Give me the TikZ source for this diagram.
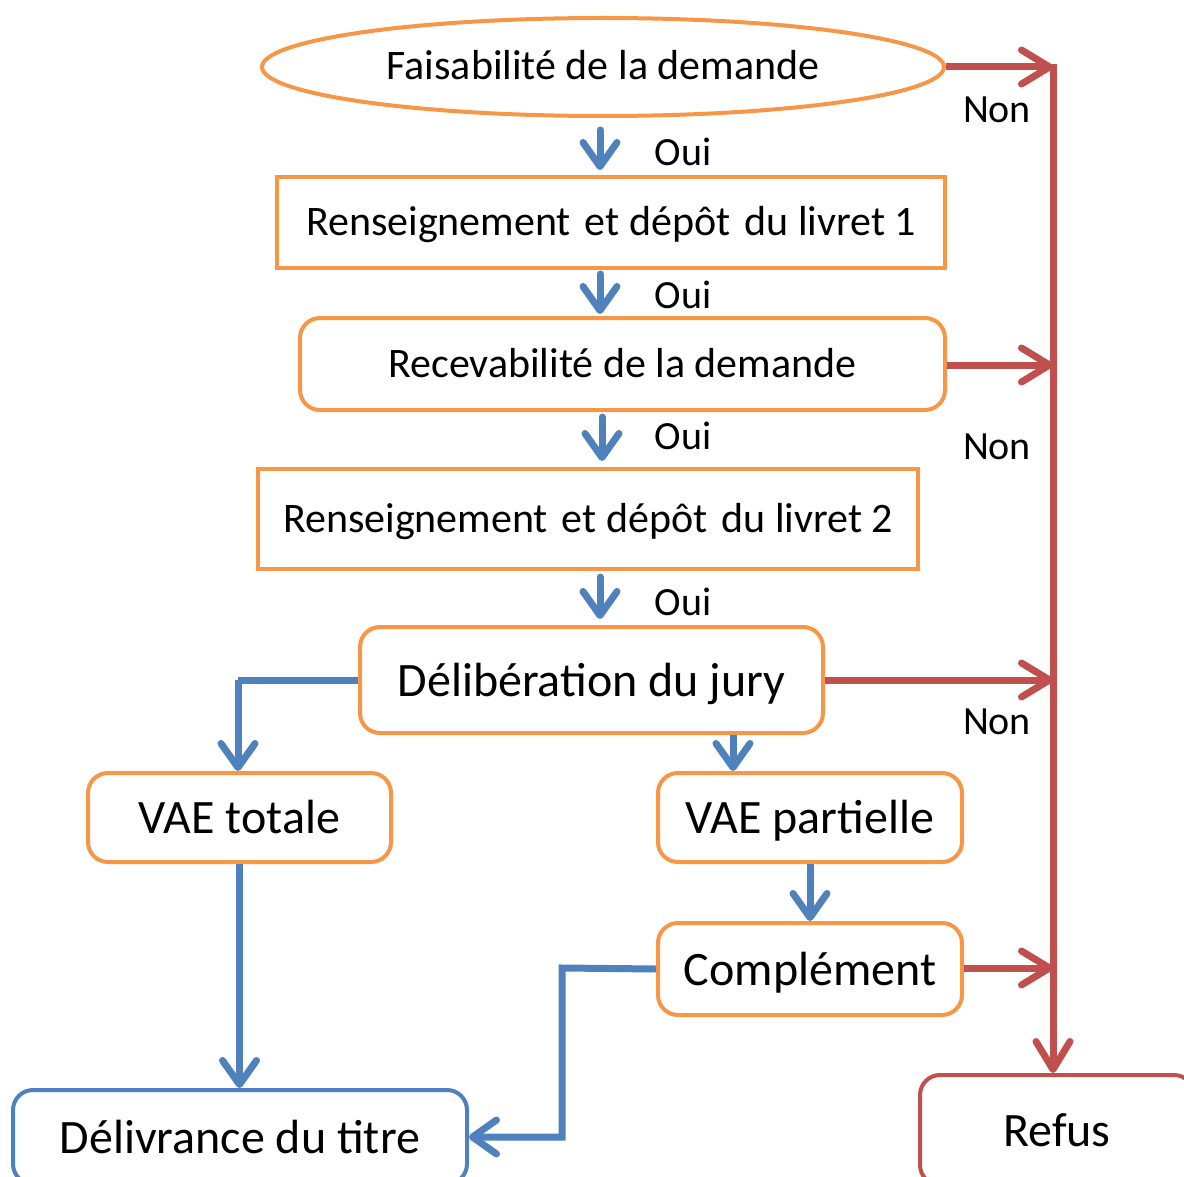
\documentclass[tikz,border=0pt]{standalone}
\usepackage{fontspec}
\setmainfont{Carlito}
\usetikzlibrary{arrows.meta,shapes.geometric}
\definecolor{vorange}{HTML}{F79646}
\definecolor{vblue}{HTML}{4F81BD}
\definecolor{vred}{HTML}{C0504D}
\begin{document}
\begin{tikzpicture}[x=1pt,y=-1pt,
  txt/.style={font=\fontsize{42}{48}\selectfont, text height=26pt, text depth=0pt},
  bigtxt/.style={font=\fontsize{48}{54}\selectfont, text height=32pt, text depth=0pt},
  lbl/.style={font=\fontsize{40}{46}\selectfont, inner sep=0pt},
  obox/.style={draw=vorange, line width=4pt, fill=white, inner sep=0pt},
  rbox/.style={obox, rounded corners=20pt},
  bconn/.style={draw=vblue, line width=7pt, line cap=round,
    -{Straight Barb[length=24pt,width=34pt,round]}},
  bline/.style={draw=vblue, line width=7pt},
  rconn/.style={draw=vred, line width=7pt,
    -{Straight Barb[length=28pt,width=34pt,round]}},
]
\useasboundingbox (0,0) rectangle (1184,1177);
\clip (0,0) rectangle (1184,1177);

% nodes
\node[obox, ellipse, minimum width=682pt, minimum height=98pt, txt] (fais) at (603,67) {Faisabilité de la demande};
\node[obox, minimum width=668pt, minimum height=91pt, txt] (liv1) at (611,222.5) {Renseignement\hspace{4.5pt} et dépôt\hspace{4.5pt} du livret 1};
\node[rbox, minimum width=645pt, minimum height=92pt, txt] (rece) at (622.5,364) {Recevabilité de la demande};
\node[obox, minimum width=660pt, minimum height=100pt, txt] (liv2) at (588,519) {Renseignement\hspace{4.5pt} et dépôt\hspace{4.5pt} du livret 2};
\node[rbox, minimum width=463pt, minimum height=106pt, bigtxt] (deli) at (591.5,680) {Délibération du jury};
\node[rbox, minimum width=303pt, minimum height=89pt, bigtxt] (tot) at (239.5,817.5) {VAE totale};
\node[rbox, minimum width=304pt, minimum height=89pt, bigtxt] (part) at (810,817.5) {VAE partielle};
\node[rbox, minimum width=304pt, minimum height=92pt, bigtxt] (comp) at (810,969) {Complément};
\node[rbox, draw=vblue, minimum width=454pt, minimum height=94pt, bigtxt] (deliv) at (240,1137) {Délivrance du titre};
\node[rbox, draw=vred, minimum width=274pt, minimum height=110pt, bigtxt] (refus) at (1057,1130) {Refus};

% labels
\node[lbl] (oui1) at (683,152) {Oui};
\node[lbl] (oui2) at (683,295) {Oui};
\node[lbl] (oui3) at (683,436) {Oui};
\node[lbl] (oui4) at (683,602) {Oui};
\node[lbl] (non1) at (997,110) {Non};
\node[lbl] (non2) at (997,447) {Non};
\node[lbl] (non3) at (997,722) {Non};

% refus spine
\coordinate (rtop) at (1053,67);
\coordinate (r2) at (1053,365);
\coordinate (r3) at (1053,680);
\coordinate (r4) at (1053,968);
\draw[rconn, shorten <=-3pt] (rtop) -- (refus.north -| rtop);
\draw[rconn] (fais.east) -- (rtop);
\draw[rconn] (rece.east |- r2) -- (r2);
\draw[rconn] (deli.east |- r3) -- (r3);
\draw[rconn] (comp.east |- r4) -- (r4);

% Oui arrows
\draw[bconn, shorten <=12pt, shorten >=5pt] (fais.south -| 600,0) -- (liv1.north -| 600,0);
\draw[bconn, shorten <=4pt, shorten >=2pt] (liv1.south -| 600,0) -- (rece.north -| 600,0);
\draw[bconn, shorten <=5pt, shorten >=6pt] (rece.south -| 602,0) -- (liv2.north -| 602,0);
\draw[bconn, shorten <=6pt, shorten >=6pt] (liv2.south -| 600,0) -- (deli.north -| 600,0);

% jury outcomes
\coordinate (jl) at (238,680);
\draw[bline] (deli.west) -- (jl);
\draw[bconn, line cap=butt] (jl) -- (tot.north -| jl);
\draw[bconn, line cap=butt] (deli.south -| 733,0) -- (part.north -| 733,0);
\draw[bconn, line cap=butt] (part.south) -- (comp.north);
\draw[bconn, line cap=butt] (tot.south) -- (deliv.north -| tot.south);
\coordinate (cl) at (562,968);
\draw[bconn, line cap=butt] (comp.west) -- (cl) -- (cl |- deliv.east) -- (deliv.east);
\end{tikzpicture}
\end{document}
